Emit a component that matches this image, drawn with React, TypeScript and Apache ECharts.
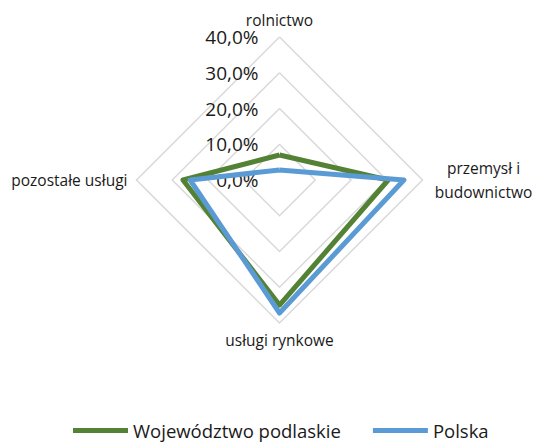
import React, { useEffect, useRef } from "react";
import * as echarts from "echarts";

// Indicators in ECharts order (counter-clockwise from top)
const indicatorNames = ["rolnictwo", "pozostałe usługi", "usługi rynkowe", "przemysł i budownictwo"];
const podlaskie = [7.0, 27.0, 35.0, 30.4];
const polska = [2.8, 25.0, 37.2, 34.8];
const seriesNames = ["Województwo podlaskie", "Polska"];
const tickMax = 40;
const tickInterval = 10;

const FONT = "'Open Sans', 'Noto Sans', sans-serif";

export default function App() {
  const ref = useRef<HTMLDivElement>(null);
  useEffect(() => {
    if (!ref.current) return;
    const chart = echarts.init(ref.current, undefined, { renderer: "svg" });
    const cx = 279.5;
    const cy = 180;
    const r = 143;
    chart.setOption({
      animation: false,
      textStyle: { fontFamily: FONT },
      legend: {
        top: 421,
        left: 73,
        padding: 0,
        icon: "rect",
        itemWidth: 55,
        itemHeight: 5,
        itemGap: 32,
        textStyle: { fontSize: 18.5, color: "#1a1a1a", fontFamily: FONT },
        data: seriesNames,
      },
      radar: {
        center: [cx, cy],
        radius: r,
        shape: "polygon",
        splitNumber: 4,
        startAngle: 90,
        nameGap: 9,
        indicator: indicatorNames.map((n) => ({ name: n, max: tickMax, min: 0 })),
        axisName: {
          color: "#1a1a1a",
          fontSize: 15.5,
          fontFamily: FONT,
          formatter: (name: string) =>
            name === "przemysł i budownictwo"
              ? "{c|przemysł i}\n{c|budownictwo}"
              : name,
          rich: {
            c: { width: 104, align: "center", fontSize: 15.5, lineHeight: 24, color: "#1a1a1a", fontFamily: FONT },
          },
        },
        axisLine: { show: false },
        axisTick: { show: false },
        axisLabel: { show: false },
        splitArea: { show: false },
        splitLine: { lineStyle: { color: "#d9d9d9", width: 1.5 } },
      },
      grid: { left: cx, width: 1, top: cy - r, height: r },
      xAxis: { type: "value", show: false },
      yAxis: {
        type: "value",
        min: 0,
        max: tickMax,
        interval: tickInterval,
        axisLine: { show: false },
        axisTick: { show: false },
        splitLine: { show: false },
        axisLabel: {
          fontSize: 19,
          color: "#1a1a1a",
          margin: 21,
          fontFamily: FONT,
          formatter: (v: number) => v.toFixed(1).replace(".", ",") + "%",
        },
      },
      series: [
        {
          type: "radar",
          symbol: "none",
          data: [
            {
              name: seriesNames[0],
              value: podlaskie,
              lineStyle: { color: "#548235", width: 5 },
              itemStyle: { color: "#548235" },
            },
            {
              name: seriesNames[1],
              value: polska,
              lineStyle: { color: "#5b9bd5", width: 5 },
              itemStyle: { color: "#5b9bd5" },
            },
          ],
        },
      ],
    });
    return () => chart.dispose();
  }, []);
  return (
    <div
      ref={ref}
      style={{ position: "fixed", left: 0, top: 0, width: 535, height: 446, background: "#fff" }}
    />
  );
}
